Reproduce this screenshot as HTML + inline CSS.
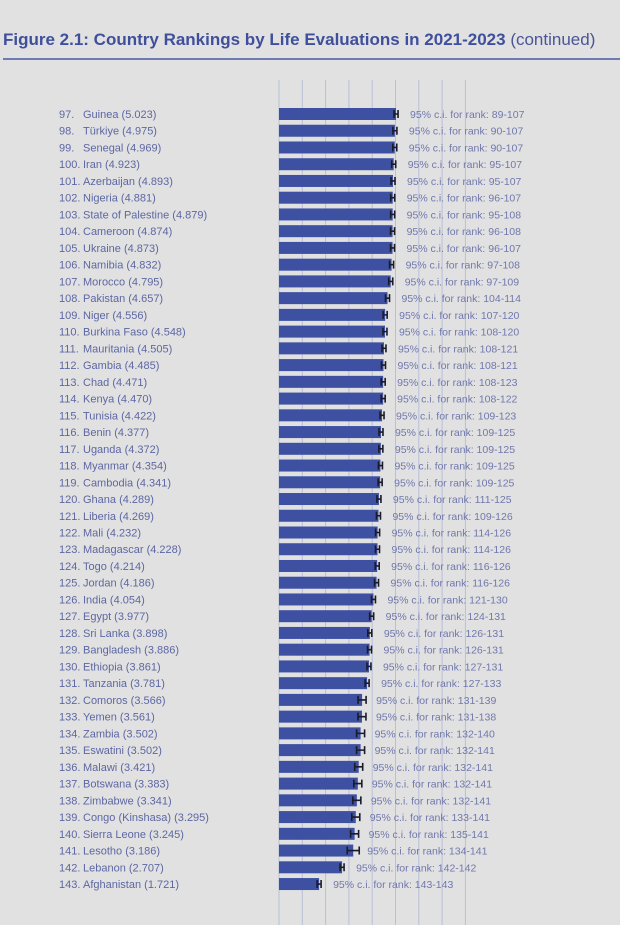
<!DOCTYPE html>
<html><head><meta charset="utf-8"><style>
body{margin:0;background:#e1e1e1;width:620px;height:925px;overflow:hidden;font-family:"Liberation Sans",sans-serif}
</style></head><body>
<svg id="s" width="620" height="925" xmlns="http://www.w3.org/2000/svg" style="position:absolute;left:0;top:0">
<text x="3" y="45" font-size="17" font-weight="bold" fill="#3f4f9c">Figure 2.1: Country Rankings by Life Evaluations in 2021-2023 <tspan font-weight="normal" fill="#4a5596">(continued)</tspan></text>
<rect x="3" y="58" width="617" height="2" fill="#6f7bb5"/>
</svg>
<script>
var d=[["Guinea",5.023,"89-107"],["Türkiye",4.975,"90-107"],["Senegal",4.969,"90-107"],["Iran",4.923,"95-107"],["Azerbaijan",4.893,"95-107"],["Nigeria",4.881,"96-107"],["State of Palestine",4.879,"95-108"],["Cameroon",4.874,"96-108"],["Ukraine",4.873,"96-107"],["Namibia",4.832,"97-108"],["Morocco",4.795,"97-109"],["Pakistan",4.657,"104-114"],["Niger",4.556,"107-120"],["Burkina Faso",4.548,"108-120"],["Mauritania",4.505,"108-121"],["Gambia",4.485,"108-121"],["Chad",4.471,"108-123"],["Kenya",4.470,"108-122"],["Tunisia",4.422,"109-123"],["Benin",4.377,"109-125"],["Uganda",4.372,"109-125"],["Myanmar",4.354,"109-125"],["Cambodia",4.341,"109-125"],["Ghana",4.289,"111-125"],["Liberia",4.269,"109-126"],["Mali",4.232,"114-126"],["Madagascar",4.228,"114-126"],["Togo",4.214,"116-126"],["Jordan",4.186,"116-126"],["India",4.054,"121-130"],["Egypt",3.977,"124-131"],["Sri Lanka",3.898,"126-131"],["Bangladesh",3.886,"126-131"],["Ethiopia",3.861,"127-131"],["Tanzania",3.781,"127-133"],["Comoros",3.566,"131-139"],["Yemen",3.561,"131-138"],["Zambia",3.502,"132-140"],["Eswatini",3.502,"132-141"],["Malawi",3.421,"132-141"],["Botswana",3.383,"132-141"],["Zimbabwe",3.341,"132-141"],["Congo  (Kinshasa)",3.295,"133-141"],["Sierra Leone",3.245,"135-141"],["Lesotho",3.186,"134-141"],["Lebanon",2.707,"142-142"],["Afghanistan",1.721,"143-143"]];
var h='';
for(var i=0;i<9;i++){var x=279+i*23.3;h+='<rect x="'+(x-0.5)+'" y="80" width="1" height="845" fill="#b9bfd9"/>';}
d.forEach(function(r,i){var y=114+i*16.74,v=r[1],e=279+v*23.3,w=(i>=35&&i<45)?(i==44?6:4):2;
h+='<rect x="279" y="'+(y-6)+'" width="'+(e-279)+'" height="12" fill="#3d50a2"/>';
h+='<path d="M'+(e-w)+' '+(y-4)+'v8M'+(e+w)+' '+(y-4)+'v8M'+(e-w)+' '+y+'H'+(e+w)+'" stroke="#1a1a2a" stroke-width="1.6" fill="none"/>';
h+='<text x="59" y="'+(y+4)+'" font-size="11" fill="#5d67a3">'+(97+i)+'.</text>';
h+='<text x="83" y="'+(y+4)+'" font-size="11" fill="#5d67a3">'+r[0]+' ('+v.toFixed(3)+')</text>';
h+='<text x="'+(e+14)+'" y="'+(y+4)+'" font-size="10.5" fill="#7078ad">95% c.i. for rank: '+r[2]+'</text>';});
document.getElementById('s').insertAdjacentHTML('beforeend',h);
</script>
</body></html>
